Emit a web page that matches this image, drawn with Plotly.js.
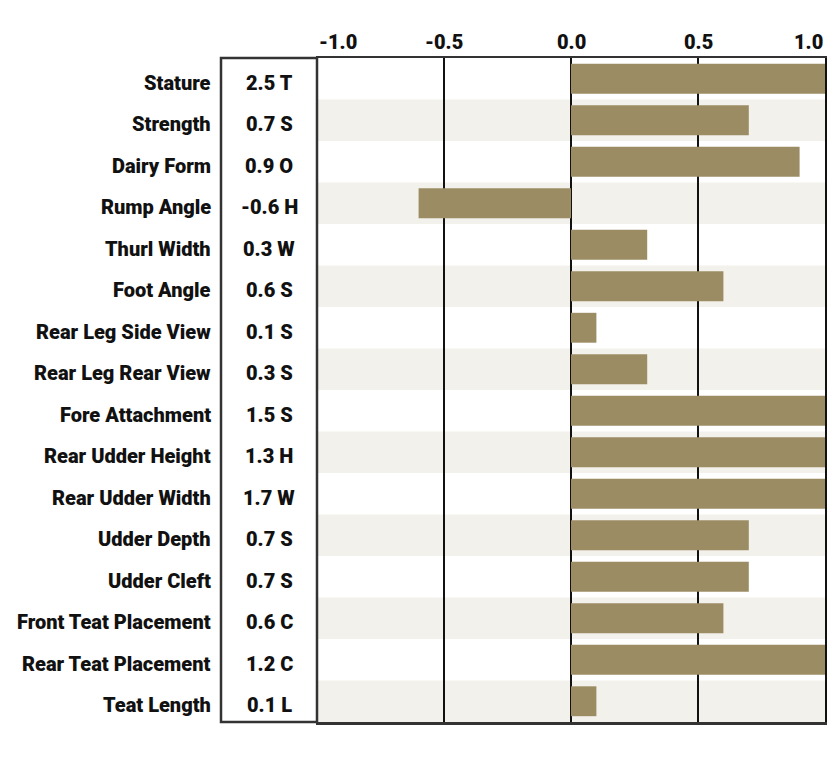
<!DOCTYPE html>
<html>
<head>
<meta charset="utf-8">
<script src="https://cdn.plot.ly/plotly-3.0.1.min.js"></script>
<style>html,body{margin:0;padding:0;background:#fff;}#chart{width:835px;height:757px;}</style>
</head>
<body>
<div id="chart"></div>
<script>
const traits = ["Stature","Strength","Dairy Form","Rump Angle","Thurl Width","Foot Angle","Rear Leg Side View","Rear Leg Rear View","Fore Attachment","Rear Udder Height","Rear Udder Width","Udder Depth","Udder Cleft","Front Teat Placement","Rear Teat Placement","Teat Length"];
const values = [2.5,0.7,0.9,-0.6,0.3,0.6,0.1,0.3,1.5,1.3,1.7,0.7,0.7,0.6,1.2,0.1];
const letters = ["T","S","O","H","W","S","S","S","S","H","W","S","S","C","C","L"];
const tickVals = [-1.0,-0.5,0.0,0.5,1.0];
const tickText = ["-1.0","-0.5","0.0","0.5","1.0"];

const FONT = "Roboto, 'Open Sans', sans-serif";
const W = 835, H = 757;
const L = 317, R = 10, T = 58, B = 35;
const pw = W - L - R;
const boxLeft = (221 - L) / pw;
const valCenter = (269 - L) / pw;
const labelRight = (213 - L) / pw;

const shapes = [];
traits.forEach((t, i) => {
  if (i % 2 === 1) {
    shapes.push({type:'rect', xref:'paper', yref:'y', x0:0, x1:1, y0:i-0.5, y1:i+0.5,
      fillcolor:'#f3f1ec', line:{width:0}, layer:'below'});
  }
});
shapes.push({type:'rect', xref:'paper', yref:'paper', x0:boxLeft, x1:0, y0:0, y1:1,
  line:{color:'#333', width:2.5}, fillcolor:'rgba(0,0,0,0)', layer:'above'});

const annotations = [];
traits.forEach((t, i) => {
  annotations.push({x:labelRight, xref:'paper', y:i, yref:'y', text:t, showarrow:false,
    xanchor:'right', yanchor:'middle', yshift:-4, font:{family:FONT, size:20, color:'#111', weight:900}});
  const v = values[i];
  annotations.push({x:valCenter, xref:'paper', y:i, yref:'y', text:v.toFixed(1) + ' ' + letters[i], showarrow:false,
    xanchor:'center', yanchor:'middle', yshift:-4, font:{family:FONT, size:20, color:'#111', weight:900}});
});
tickVals.forEach((v, i) => {
  const anchor = i === 0 ? 'left' : (i === tickVals.length - 1 ? 'right' : 'center');
  annotations.push({x:v, xref:'x', y:1, yref:'paper', text:tickText[i], showarrow:false,
    xanchor:anchor, yanchor:'bottom', yshift:2, font:{family:FONT, size:20, color:'#111', weight:900}});
});

const trace = {
  type:'bar', orientation:'h', y:traits.map((t,i)=>i), x:values,
  marker:{color:'#9c8c64', line:{width:0}}, width:0.72, hoverinfo:'skip'
};

const layout = {
  width:W, height:H, margin:{l:L, r:R, t:T, b:B, pad:0},
  paper_bgcolor:'#fff', plot_bgcolor:'rgba(0,0,0,0)', showlegend:false,
  xaxis:{range:[-1,1], tickvals:tickVals, showticklabels:false, ticks:'', showgrid:true,
    gridcolor:'#111', gridwidth:1.5, zeroline:false, showline:true, mirror:true,
    linecolor:'#333', linewidth:2.5, fixedrange:true},
  yaxis:{range:[traits.length-0.5, -0.5], showticklabels:false, ticks:'', showgrid:false,
    zeroline:false, showline:true, mirror:true, linecolor:'#111', linewidth:1.5, fixedrange:true},
  shapes:shapes, annotations:annotations
};

Plotly.newPlot('chart', [trace], layout, {displayModeBar:false, staticPlot:true});
</script>
</body>
</html>
